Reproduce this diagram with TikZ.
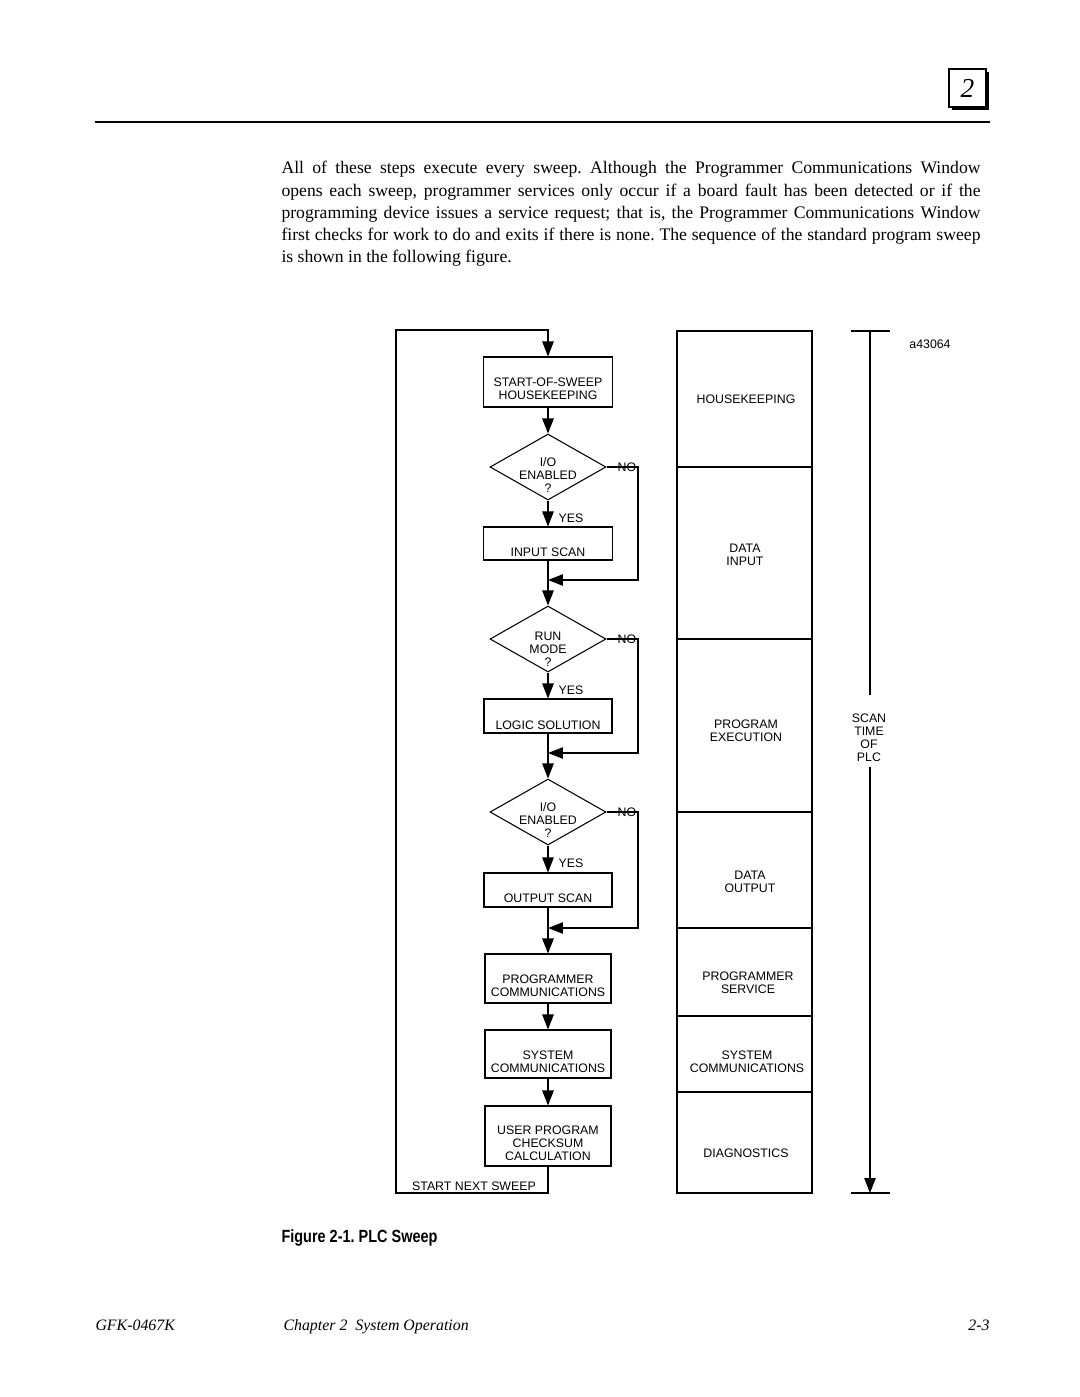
\documentclass[tikz,border=0pt]{standalone}
\usepackage{fontspec}
\setmainfont{Liberation Serif}
\setsansfont{Liberation Sans}
\newfontfamily\capfont[FakeStretch=0.82]{Liberation Sans}
\usetikzlibrary{shapes.geometric,arrows.meta}
\def\pxl{0.56693pt}
\frenchspacing
\begin{document}
\begin{tikzpicture}[x=0.56693pt,y=-0.56693pt,
  line width=0.6pt,
  arr/.style={-{Triangle[length=8.5pt,width=6.5pt]}},
  box/.style={draw, rectangle, inner sep=0pt},
  dia/.style={draw, diamond, inner sep=0pt, minimum width=116*\pxl, minimum height=66*\pxl},
  lbl/.style={font=\sffamily\fontsize{7}{7.4}\selectfont, align=center, inner sep=0pt},
  sec/.style={draw, rectangle, inner sep=0pt, minimum width=135*\pxl},
]
\useasboundingbox (0,0) rectangle (1080,1397);

% ---- page header ----
\fill (952,72) rectangle (989,110);
\node[draw, fill=white, inner sep=0pt, line width=0.7pt, minimum width=37*\pxl, minimum height=38*\pxl]
  (chap) at (967.5,88) {\fontsize{15.5}{15.5}\selectfont\itshape 2};
\draw[line width=1.3pt] (95,122) -- (990,122);

% ---- paragraph ----
\node[anchor=north west, inner sep=0pt, text width=699*\pxl, align=justify,
      font=\fontsize{10}{12.5}\selectfont\frenchspacing] (para) at (281,161)
 {All of these steps execute every sweep. Although the Programmer Communications Window\linebreak
  opens each sweep, programmer services only occur if a board fault has been detected or if the\linebreak
  programming device issues a service request; that is, the Programmer Communications Window\linebreak
  first checks for work to do and exits if there is none. The sequence of the standard program sweep\linebreak
  is shown in the following figure.};

% ---- flowchart ----
\node[box, minimum width=129*\pxl, minimum height=50*\pxl] (b1) at (548,382) {};
\node[lbl] (t1) at (548,389) {START-OF-SWEEP\\HOUSEKEEPING};

\node[dia] (d1) at (548,467) {};
\node[lbl] (dt1) at (548,475) {I/O\\ENABLED\\?};
\node[lbl] (no1) at (627,467) {NO};
\node[lbl] (yes1) at (571,518) {YES};

\node[box, minimum width=129*\pxl, minimum height=33*\pxl] (b2) at (548,543.5) {};
\node[lbl] (t2) at (548,552) {INPUT SCAN};

\node[dia] (d2) at (548,639) {};
\node[lbl] (dt2) at (548,649) {RUN\\MODE\\?};
\node[lbl] (no2) at (627,639) {NO};
\node[lbl] (yes2) at (571,690) {YES};

\node[box, minimum width=128*\pxl, minimum height=34*\pxl] (b3) at (548,716) {};
\node[lbl] (t3) at (548,725) {LOGIC SOLUTION};

\node[dia] (d3) at (548,812) {};
\node[lbl] (dt3) at (548,820) {I/O\\ENABLED\\?};
\node[lbl] (no3) at (627,812) {NO};
\node[lbl] (yes3) at (571,863) {YES};

\node[box, minimum width=128*\pxl, minimum height=34*\pxl] (b4) at (548,890) {};
\node[lbl] (t4) at (548,898) {OUTPUT SCAN};

\node[box, minimum width=126*\pxl, minimum height=49*\pxl] (b5) at (548,978.5) {};
\node[lbl] (t5) at (548,985.5) {PROGRAMMER\\COMMUNICATIONS};

\node[box, minimum width=126*\pxl, minimum height=48*\pxl] (b6) at (548,1054) {};
\node[lbl] (t6) at (548,1061.5) {SYSTEM\\COMMUNICATIONS};

\node[box, minimum width=126*\pxl, minimum height=60*\pxl] (b7) at (548,1136) {};
\node[lbl] (t7) at (548,1143) {USER PROGRAM\\CHECKSUM\\CALCULATION};

\node[lbl] (sns) at (474,1186) {START NEXT SWEEP};

\coordinate (m1) at (548,580);
\coordinate (m2) at (548,753);
\coordinate (m3) at (548,928);
\coordinate (r1) at (638,467);
\coordinate (r2) at (638,639);
\coordinate (r3) at (638,812);
\coordinate (lb) at (396,1193);
\coordinate (lt) at (396,330);

\draw[arr] (b1) -- (d1);
\draw[arr] (d1) -- (b2);
\draw[arr] (b2) -- (d2);
\draw[arr] (d2) -- (b3);
\draw[arr] (b3) -- (d3);
\draw[arr] (d3) -- (b4);
\draw[arr] (b4) -- (b5);
\draw[arr] (b5) -- (b6);
\draw[arr] (b6) -- (b7);
\draw[arr] (d1.east) -- (r1) |- (m1);
\draw[arr] (d2.east) -- (r2) |- (m2);
\draw[arr] (d3.east) -- (r3) |- (m3);
\draw[arr] (b7.south) |- (lb) -- (lt) -| (b1.north);

% ---- right column ----
\node[sec, minimum height=136*\pxl] (s1) at (744.5,399) {};
\node[sec, minimum height=172*\pxl] (s2) at (744.5,553) {};
\node[sec, minimum height=173*\pxl] (s3) at (744.5,725.5) {};
\node[sec, minimum height=116*\pxl] (s4) at (744.5,870) {};
\node[sec, minimum height=88*\pxl] (s5) at (744.5,972) {};
\node[sec, minimum height=76*\pxl] (s6) at (744.5,1054) {};
\node[sec, minimum height=101*\pxl] (s7) at (744.5,1142.5) {};
\node[lbl] (st1) at (746,399) {HOUSEKEEPING};
\node[lbl] (st2) at (745,554.5) {DATA\\INPUT};
\node[lbl] (st3) at (746,731) {PROGRAM\\EXECUTION};
\node[lbl] (st4) at (750,881.5) {DATA\\OUTPUT};
\node[lbl] (st5) at (748,982.5) {PROGRAMMER\\SERVICE};
\node[lbl] (st6) at (747,1061.5) {SYSTEM\\COMMUNICATIONS};
\node[lbl] (st7) at (746,1153) {DIAGNOSTICS};

% ---- scan time ----
\coordinate (tt) at (870,331);
\coordinate (tb) at (870,1193);
\coordinate (g1) at (870,695);
\coordinate (g2) at (870,767);
\draw (851,331) -- (890,331);
\draw (851,1193) -- (890,1193);
\draw (tt) -- (g1);
\draw[arr] (g2) -- (tb);
\node[lbl] (scan) at (869,738) {SCAN\\TIME\\OF\\PLC};
\node[lbl] (fig) at (930,344) {a43064};

% ---- caption and footer ----
\node[anchor=west, inner sep=0pt, font=\capfont\bfseries\fontsize{10}{12}\selectfont]
  (cap) at (281,1238) {Figure 2-1. PLC Sweep};
\node[anchor=base west, inner sep=0pt, font=\itshape\fontsize{9}{11}\selectfont]
  (f1) at (95,1330) {GFK-0467K};
\node[anchor=base west, inner sep=0pt, font=\itshape\fontsize{9}{11}\selectfont]
  (f2) at (283,1330) {Chapter 2\ \ System Operation};
\node[anchor=base east, inner sep=0pt, font=\itshape\fontsize{9}{11}\selectfont]
  (f3) at (990,1330) {2-3};
\end{tikzpicture}
\end{document}
